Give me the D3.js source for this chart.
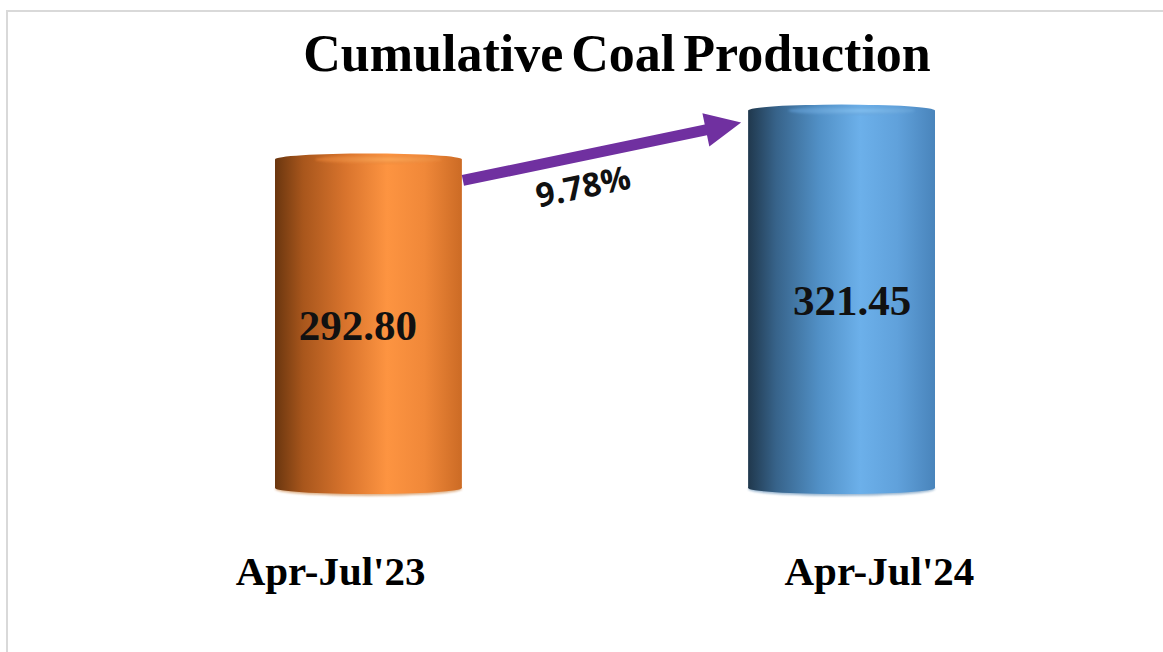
<!DOCTYPE html>
<html>
<head>
<meta charset="utf-8">
<script src="https://cdn.jsdelivr.net/npm/d3@7"></script>
<style>
  body { margin: 0; background: #fff; }
  svg { display: block; }
</style>
</head>
<body>
<script>
// chart data
var categories = ["Apr-Jul'23", "Apr-Jul'24"];
var values = [292.80, 321.45];
var growthLabel = "9.78%";
var chartTitle = "Cumulative Coal Production";

var width = 1163, height = 652;

var svg = d3.select("body").append("svg")
    .attr("width", width)
    .attr("height", height);

// gradients for the cylinders
var defs = svg.append("defs");
var palettes = [
  ["#6a360f", "#a8561c", "#d9742d", "#fd9441", "#f08839", "#cc6b25"],
  ["#20384d", "#37638a", "#5190c6", "#6cb0ea", "#60a1db", "#4984bb"]
];
var stops = [0, 0.15, 0.38, 0.6, 0.8, 1];
palettes.forEach(function(p, i) {
  var g = defs.append("linearGradient").attr("id", "body" + i)
      .attr("x1", "0%").attr("x2", "100%").attr("y1", "0%").attr("y2", "0%");
  p.forEach(function(c, j) {
    g.append("stop").attr("offset", stops[j]).attr("stop-color", c);
  });
  var t = defs.append("radialGradient").attr("id", "cap" + i)
      .attr("cx", "58%").attr("cy", "50%").attr("r", "60%");
  t.append("stop").attr("offset", 0).attr("stop-color", i == 0 ? "#ffb060" : "#8cc8f5");
  t.append("stop").attr("offset", 1).attr("stop-color", i == 0 ? "#e07a30" : "#5a95cc");
});
defs.append("filter").attr("id", "soft")
  .append("feGaussianBlur").attr("stdDeviation", 1.2);

// frame
svg.append("rect")
    .attr("x", 7).attr("y", 11)
    .attr("width", 1170).attr("height", 700)
    .attr("fill", "none")
    .attr("stroke", "#d9d9d9")
    .attr("stroke-width", 2);

// scales
var x = d3.scaleBand().domain(categories).range([275, 935]).paddingInner(0.605).paddingOuter(0);
var y = d3.scaleLinear().domain([100, 340]).range([488, 79]);
var ry = 6;
var midX = 605;

// title
svg.append("text")
    .attr("x", 617).attr("y", 71)
    .attr("text-anchor", "middle")
    .style("font-family", "'Liberation Serif', 'Times New Roman', serif")
    .style("font-weight", "bold")
    .style("font-size", "52px")
    .style("word-spacing", "-5px")
    .text(chartTitle);

var bars = svg.selectAll("g.bar")
    .data(values)
  .enter().append("g")
    .attr("class", "bar");

// soft bottom edge
bars.append("ellipse")
    .attr("cx", function(d, i) { return x(categories[i]) + x.bandwidth() / 2; })
    .attr("cy", y(100) + 1)
    .attr("rx", x.bandwidth() / 2)
    .attr("ry", ry + 1)
    .attr("fill", function(d, i) { return i == 0 ? "#c8803f" : "#5a88b2"; })
    .attr("opacity", 0.6)
    .attr("filter", "url(#soft)");

bars.append("ellipse")
    .attr("cx", function(d, i) { return x(categories[i]) + x.bandwidth() / 2; })
    .attr("cy", y(100))
    .attr("rx", x.bandwidth() / 2)
    .attr("ry", ry)
    .attr("fill", function(d, i) { return "url(#body" + i + ")"; });

bars.append("rect")
    .attr("x", function(d, i) { return x(categories[i]); })
    .attr("y", function(d) { return y(d); })
    .attr("width", x.bandwidth())
    .attr("height", function(d) { return y(100) - y(d); })
    .attr("fill", function(d, i) { return "url(#body" + i + ")"; });

bars.append("ellipse")
    .attr("cx", function(d, i) { return x(categories[i]) + x.bandwidth() / 2; })
    .attr("cy", function(d) { return y(d); })
    .attr("rx", x.bandwidth() / 2)
    .attr("ry", ry)
    .attr("fill", function(d, i) { return "url(#body" + i + ")"; });

bars.append("ellipse")
    .attr("cx", function(d, i) { return x(categories[i]) + x.bandwidth() / 2 + 10; })
    .attr("cy", function(d) { return y(d); })
    .attr("rx", x.bandwidth() / 2 - 30)
    .attr("ry", ry - 2)
    .attr("fill", function(d, i) { return "url(#cap" + i + ")"; })
    .attr("opacity", 0.7)
    .attr("filter", "url(#soft)");

// value labels
bars.append("text")
    .attr("x", function(d, i) {
      var cx = x(categories[i]) + x.bandwidth() / 2;
      return cx + (cx - midX) * 0.045;
    })
    .attr("y", function(d) { return (y(d) + y(100)) / 2 + 16; })
    .attr("text-anchor", "middle")
    .style("font-family", "'Liberation Serif', 'Times New Roman', serif")
    .style("font-weight", "bold")
    .style("font-size", "43px")
    .style("fill", "#111")
    .text(function(d) { return d3.format(".2f")(d); });

// category labels
svg.selectAll("text.cat")
    .data(categories)
  .enter().append("text")
    .attr("class", "cat")
    .attr("x", function(d) {
      var cx = x(d) + x.bandwidth() / 2;
      return cx + (cx - midX) * 0.16;
    })
    .attr("y", 585)
    .attr("text-anchor", "middle")
    .style("font-family", "'Liberation Serif', 'Times New Roman', serif")
    .style("font-weight", "bold")
    .style("font-size", "41px")
    .text(function(d) { return d; });

// growth arrow
var x0 = x(categories[0]) + x.bandwidth() + 1, y0 = y(values[0]) + 21;
var x1 = x(categories[1]) - 7, y1 = y(values[1]) + 12;
var ang = Math.atan2(y1 - y0, x1 - x0);
var len = Math.hypot(x1 - x0, y1 - y0);
var shaft = 5.5, headL = 36, headW = 17;
var arrowPts = [
  [0, -shaft], [len - headL, -shaft], [len - headL, -headW], [len, 0],
  [len - headL, headW], [len - headL, shaft], [0, shaft]
];
var ag = svg.append("g")
    .attr("transform", "translate(" + x0 + "," + y0 + ") rotate(" + (ang * 180 / Math.PI) + ")");
ag.append("path")
    .attr("d", d3.line()(arrowPts) + "Z")
    .attr("fill", "#7030a0");
ag.append("text")
    .attr("x", len * 0.41)
    .attr("y", 42)
    .attr("text-anchor", "middle")
    .style("font-family", "'Open Sans', 'Noto Sans', sans-serif")
    .style("font-weight", "bold")
    .style("font-size", "33px")
    .style("fill", "#111")
    .text(growthLabel);
</script>
</body>
</html>
